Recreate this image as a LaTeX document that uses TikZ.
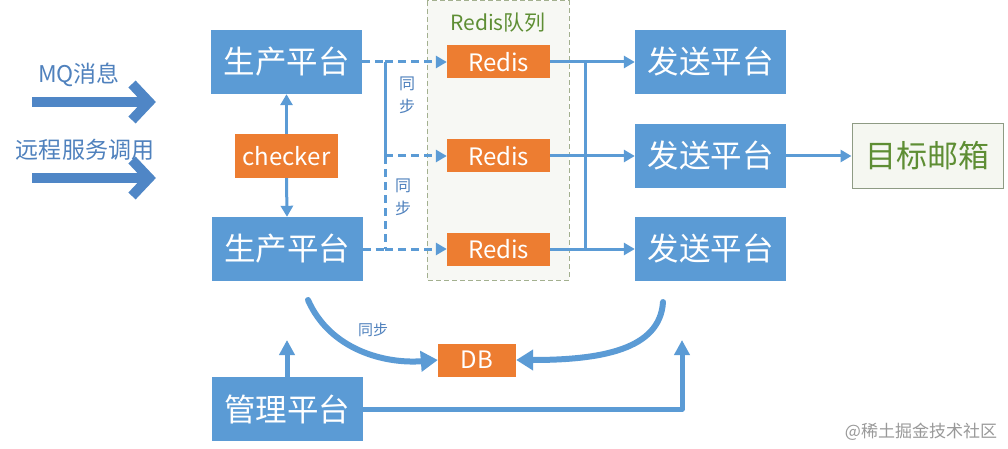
\documentclass[tikz,border=0pt]{standalone}
\usepackage{fontspec}
\setmainfont{Noto Sans CJK SC}
\usetikzlibrary{arrows.meta}
\definecolor{boxblue}{HTML}{5B9BD5}
\definecolor{boxorange}{HTML}{ED7D31}
\definecolor{lineblue}{HTML}{5B9BD5}
\definecolor{bigblue}{HTML}{4F86C6}
\definecolor{txtblue}{HTML}{4F81BD}
\definecolor{grn}{HTML}{5E8E34}
\definecolor{grnborder}{HTML}{A3B08F}
\definecolor{contfill}{HTML}{F7F8F4}
\definecolor{tgtfill}{HTML}{F5F7F1}
\definecolor{tgtborder}{HTML}{8E9B84}
\begin{document}
\begin{tikzpicture}[x=1pt,y=-1pt,
  bluebox/.style={fill=boxblue, text=white, inner sep=0pt, minimum width=151pt, minimum height=64pt, font=\fontsize{31.5}{31.5}\selectfont},
  orangebox/.style={fill=boxorange, text=white, inner sep=0pt, font=\fontsize{24}{24}\selectfont},
  conn/.style={draw=lineblue, line width=3pt, -{Triangle[length=11pt,width=12pt]}},
  plainconn/.style={draw=lineblue, line width=3pt},
  dashconn/.style={draw=lineblue, line width=3pt, dash pattern=on 8pt off 5pt},
  thickconn/.style={draw=lineblue, line width=6pt, -{Triangle[length=17pt,width=20pt]}},
  midconn/.style={draw=lineblue, line width=5pt, -{Triangle[length=15pt,width=15pt]}},
  bigarrow/.style={draw=bigblue, line width=10pt},
  smalllabel/.style={text=txtblue, inner sep=0pt, align=center, font=\fontsize{16}{23}\selectfont},
  leftlabel/.style={text=txtblue, inner sep=0pt, font=\fontsize{23}{23}\selectfont}
]
\useasboundingbox (0,0) rectangle (1008,449);
\fill[white] (0,0) rectangle (1008,449);

% Redis queue container
\draw[draw=grnborder, fill=contfill, line width=1pt, dash pattern=on 5pt off 3pt] (427,1) rectangle (569,280);
\node[text=grn, inner sep=0pt, font=\fontsize{21}{21}\selectfont] (qlabel) at (498,23) {Redis队列};

% left input arrows
\node[leftlabel] (mq) at (79,75) {MQ消息};
\node[leftlabel] (rpc) at (85,150) {远程服务调用};
\coordinate (a1s) at (32,102);
\coordinate (a1e) at (146,102);
\coordinate (a2s) at (32,178);
\coordinate (a2e) at (146,178);
\draw[bigarrow] (a1s) -- (a1e);
\draw[bigarrow, line join=miter] (132,84) -- (149,102) -- (132,120);
\draw[bigarrow] (a2s) -- (a2e);
\draw[bigarrow, line join=miter] (132,160) -- (149,178) -- (132,196);

% producers and checker
\node[bluebox] (tp) at (286.5,62) {生产平台};
\node[orangebox, minimum width=103pt, minimum height=44pt] (ck) at (286.5,156) {checker};
\node[bluebox] (bp) at (287,249) {生产平台};
\node[bluebox] (mg) at (287,409) {管理平台};

% redis nodes
\node[orangebox, minimum width=103pt, minimum height=33pt] (r1) at (498.5,62) {Redis};
\node[orangebox, minimum width=103pt, minimum height=33pt] (r2) at (498.5,156) {Redis};
\node[orangebox, minimum width=103pt, minimum height=33pt] (r3) at (498.5,249) {Redis};

% senders
\node[bluebox] (s1) at (710.5,62) {发送平台};
\node[bluebox] (s2) at (710.5,156) {发送平台};
\node[bluebox] (s3) at (710.5,249) {发送平台};

% target
\node[draw=tgtborder, fill=tgtfill, line width=1pt, text=grn, inner sep=0pt, minimum width=151pt, minimum height=65pt, font=\fontsize{31}{31}\selectfont] (tg) at (927.5,156) {目标邮箱};

% DB
\node[orangebox, minimum width=78pt, minimum height=33pt] (db) at (477,360) {DB};

% checker arrows
\draw[conn] (ck.north) -- (tp.south);
\draw[conn] (ck.south) -- (bp.north);

% producer -> redis (dashed)
\coordinate (j1) at (385,62);
\coordinate (j2) at (385,156);
\coordinate (j3) at (385,249);
\draw[dashconn] (tp.east) -- (j1);
\draw[dashconn, -{Triangle[length=11pt,width=12pt]}] (j1) -- (r1.west);
\draw[plainconn] (j1) -- (j2);
\draw[dashconn] (j2) -- (j3);
\draw[dashconn, -{Triangle[length=11pt,width=12pt]}] (j2) -- (r2.west);
\draw[dashconn] (bp.east) -- (j3);
\draw[dashconn, -{Triangle[length=11pt,width=12pt]}] (j3) -- (r3.west);
\node[smalllabel] (sync1) at (407,95) {同\\步};
\node[smalllabel] (sync2) at (403,197) {同\\步};

% redis -> senders
\coordinate (k1) at (585,62);
\coordinate (k3) at (585,249);
\draw[conn] (r1.east) -- (s1.west);
\draw[conn] (r2.east) -- (s2.west);
\draw[conn] (r3.east) -- (s3.west);
\draw[plainconn] (k1) -- (k3);

% sender -> target
\draw[conn] (s2.east) -- (tg.west);

% curves to DB
\coordinate (c1) at (308,300);
\coordinate (c2) at (663,302);
\draw[thickconn, line cap=round] (c1) .. controls (330,350) and (385,364) .. (db.west);
\draw[thickconn, line cap=round] (c2) .. controls (660,350) and (600,360) .. (db.east);
\node[smalllabel, font=\fontsize{15}{15}\selectfont] (sync3) at (373,330) {同步};

% management arrows
\coordinate (mup) at (287,340);
\coordinate (mcorner) at (682,409);
\coordinate (mtip) at (682,340);
\draw[midconn] (mg.north) -- (mup);
\draw[midconn, line join=round] (mg.east) -- (mcorner) -- (mtip);

% watermark
\node[text=black!40, inner sep=0pt, font=\fontsize{17}{17}\selectfont] (wm) at (921,432) {@稀土掘金技术社区};
\end{tikzpicture}
\end{document}
